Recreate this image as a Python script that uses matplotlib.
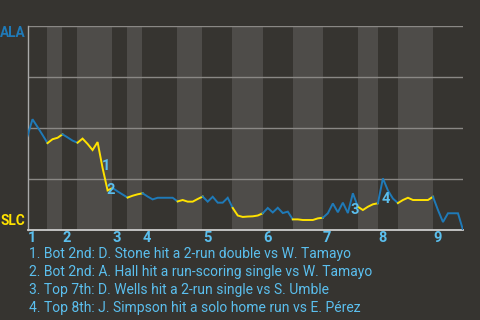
import matplotlib
matplotlib.use("Agg")
import matplotlib.pyplot as plt

# win probability for ALA, one value per plate appearance
wp = [0.461, 0.543, 0.505, 0.466, 0.426, 0.445, 0.452, 0.469, 0.454, 0.438,
      0.428, 0.448, 0.422, 0.392, 0.431, 0.304, 0.194, 0.206, 0.189, 0.174,
      0.159, 0.168, 0.175, 0.180, 0.164, 0.150, 0.158, 0.158, 0.158, 0.158,
      0.140, 0.147, 0.139, 0.139, 0.152, 0.164, 0.139, 0.163, 0.134, 0.134,
      0.158, 0.108, 0.071, 0.064, 0.066, 0.067, 0.071, 0.082, 0.108, 0.086,
      0.109, 0.083, 0.090, 0.052, 0.052, 0.049, 0.049, 0.049, 0.057, 0.060,
      0.082, 0.130, 0.087, 0.134, 0.083, 0.180, 0.114, 0.098, 0.114, 0.126,
      0.131, 0.253, 0.194, 0.154, 0.132, 0.147, 0.158, 0.147, 0.147, 0.147,
      0.147, 0.163, 0.098, 0.039, 0.082, 0.082, 0.082, 0.0]

# index of first plate appearance of each half inning (top 1, bot 1, top 2, ...)
half_starts = [0, 4, 7, 10, 17, 20, 23, 30, 35, 41, 47, 53, 59, 66, 70, 74, 81]
innings = ["1", "2", "3", "4", "5", "6", "7", "8", "9"]

events = [15, 16, 65, 71]
event_text = [
    "1. Bot 2nd: D. Stone hit a 2-run double vs W. Tamayo",
    "2. Bot 2nd: A. Hall hit a run-scoring single vs W. Tamayo",
    "3. Top 7th: D. Wells hit a 2-run single vs S. Umble",
    "4. Top 8th: J. Simpson hit a solo home run vs E. Pérez",
]
event_offsets = [(3, 2), (3, 0), (2, -17), (3, -21)]  # pixels

bg = "#363430"
band = "#4e4c49"
blue = "#1f7ab8"
yellow = "#ffe200"
lblue = "#5bbfee"

plt.rcParams["font.family"] = ["Roboto", "DejaVu Sans"]

fig = plt.figure(figsize=(4.8, 3.2), dpi=100, facecolor=bg)
ax = fig.add_axes([27.5 / 480, 90 / 320, 435.5 / 480, 204 / 320])
ax.set_facecolor(bg)

last = len(wp) - 1
ends = half_starts[1:] + [last]

# shade bottom halves
for h in range(len(half_starts)):
    if h % 2 == 1:
        ax.axvspan(half_starts[h] - 0.05, ends[h] - 0.05, color=band, lw=0, zorder=0)

for y in [0.25, 0.5, 0.75, 1.0]:
    ax.axhline(y, color="#8a8885", lw=1.0, zorder=1)

# line, coloured by which team is batting
for h in range(len(half_starts)):
    s, e = half_starts[h], ends[h]
    xs = list(range(s, e + 1))
    ax.plot(xs, wp[s:e + 1], color=blue if h % 2 == 0 else yellow, lw=1.4,
            solid_joinstyle="miter", zorder=3)

for n, (i, off) in enumerate(zip(events, event_offsets)):
    ax.annotate(str(n + 1), (i, wp[i]), xytext=off, textcoords="offset pixels",
                color=lblue, fontsize=10.5, fontweight="bold", ha="center", va="center",
                zorder=4)

ax.set_xlim(0, last)
ax.set_ylim(0, 1)
ax.set_yticks([])
ax.set_xticks(half_starts[::2])
ax.set_xticklabels(innings)
for t in ax.get_xticklabels():
    t.set_horizontalalignment("left")
    t.set_color(lblue)
    t.set_fontweight("bold")
    t.set_fontsize(10.5)
ax.tick_params(axis="x", length=0, pad=1)
for sp in ["top", "right"]:
    ax.spines[sp].set_visible(False)
ax.spines["left"].set_color("#aaaaaa")
ax.spines["bottom"].set_color("#cccccc")
ax.spines["left"].set_linewidth(1.0)
ax.spines["bottom"].set_linewidth(1.3)

fig.text(25.5 / 480, 1 - 33 / 320, "ALA", color=blue, fontsize=9.8, fontweight="bold",
         ha="right", va="center")
fig.text(25.5 / 480, 1 - 221 / 320, "SLC", color=yellow, fontsize=9.8, fontweight="bold",
         ha="right", va="center")

for k, line in enumerate(event_text):
    fig.text(29 / 480, 1 - (254 + 18 * k) / 320, line, color=lblue, fontsize=10.0,
             ha="left", va="center")

fig.savefig("out.png", dpi=100, facecolor=bg)
